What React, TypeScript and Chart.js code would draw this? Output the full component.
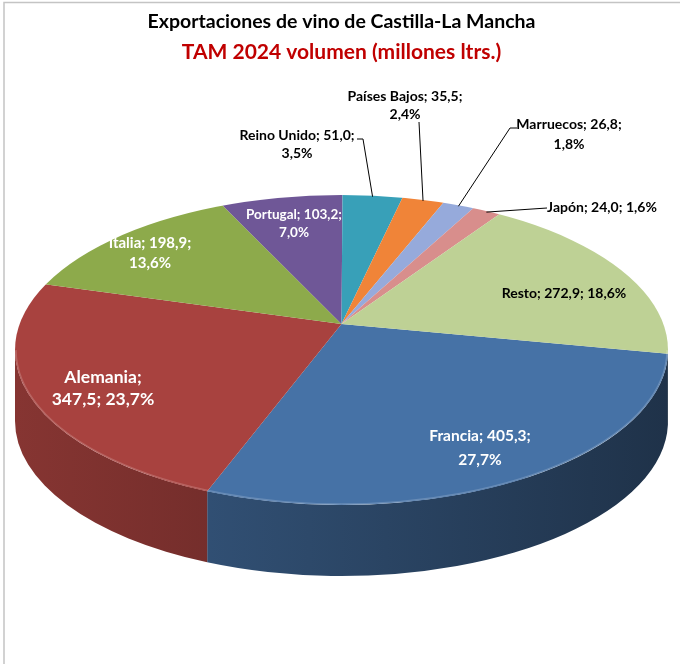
import { useEffect, useRef } from 'react';
import { Chart, registerables } from 'chart.js';

Chart.register(...registerables);

// ---- data ----
const CATEGORIES = ['Francia', 'Alemania', 'Italia', 'Portugal', 'Reino Unido', 'Países Bajos', 'Marruecos', 'Japón', 'Resto'];
const VALUES = [405.3, 347.5, 198.9, 103.2, 51.0, 35.5, 26.8, 24.0, 272.9];
const TITLE = 'Exportaciones de vino de Castilla-La Mancha';
const SUBTITLE = 'TAM 2024 volumen (millones ltrs.)';

// ---- style / layout ----
const COLORS = ['#4672A6', '#A8423F', '#8DAA4B', '#6F5797', '#38A0B8', '#F08438', '#96AADB', '#D88E8C', '#BED195'];
const FIRST_SLICE_ANGLE = 101; // degrees clockwise from 12 o'clock
const DEPTH = 71;
const PERSPECTIVE = 0.168; // 0 = no perspective
const FONT = 'Lato, "Open Sans", sans-serif';
// parts on the first line (name; value; pct)
const LABEL_BREAK = [2, 1, 2, 2, 2, 2, 2, 3, 3];
const LABEL_SIZE = [15.5, 17.5, 15, 13.5, 14, 14, 14, 14, 14];
const LABEL_LINE = [24, 22, 20, 18, 18, 18, 20, 18, 18];
const LABEL_COLOR = ['#ffffff', '#ffffff', '#ffffff', '#ffffff', '#000000', '#000000', '#000000', '#000000', '#000000'];
const LABEL_POS: [number, number][] = [[480, 436], [103, 377], [150, 243], [294, 215], [297, 135], [405, 96], [569, 124], [602, 207], [564, 293]];
// leader-line starting points (null = no leader)
const LEADERS: ([number, number][] | null)[] = [null, null, null, null, [[357, 139], [363, 139]], [[419, 122]], [[517, 128], [510, 128]], [[547, 208]], null];

const fmt = (v: number) => v.toFixed(1).replace('.', ',');

function shade(hex: string, f: number) {
  const n = parseInt(hex.slice(1), 16);
  const r = Math.round(((n >> 16) & 255) * f);
  const g = Math.round(((n >> 8) & 255) * f);
  const b = Math.round((n & 255) * f);
  return `rgb(${r},${g},${b})`;
}

const TAU = Math.PI * 2;

// silhouette ellipse (cx, cy, a, b) from the chart area, apex P of the slices and ray axes (A, B)
function geom(chart: any) {
  const { left, right, top, bottom } = chart.chartArea;
  const cx = (left + right) / 2, cy = (top + bottom) / 2, a = (right - left) / 2, b = (bottom - top) / 2;
  const k = PERSPECTIVE;
  return { cx, cy, a, b, k, px: cx, py: cy - b * k, A: a * Math.sqrt(1 - k * k), B: b * (1 - k * k) };
}

// where the ray from the apex at pie angle ang meets the silhouette; returns point and ellipse parameter
function hit(g: any, ang: number) {
  const dx = g.A * Math.cos(ang), dy = g.B * Math.sin(ang);
  const qa = (dx * dx) / (g.a * g.a) + (dy * dy) / (g.b * g.b);
  const qb = (-2 * g.k * dy) / g.b;
  const qc = g.k * g.k - 1;
  const t = (-qb + Math.sqrt(qb * qb - 4 * qa * qc)) / (2 * qa);
  const x = g.px + t * dx, y = g.py + t * dy;
  let phi = Math.atan2((y - g.cy) / g.b, (x - g.cx) / g.a);
  phi += TAU * Math.round((ang - phi) / TAU);
  return { x, y, phi };
}

const pie3d = {
  id: 'pie3d',
  beforeDraw(chart: any) {
    const ctx = chart.ctx;
    ctx.save();
    ctx.strokeStyle = '#C4C4C4';
    ctx.lineWidth = 1.5;
    ctx.beginPath();
    ctx.moveTo(4, 700);
    ctx.lineTo(4, 2.5);
    ctx.lineTo(700, 2.5);
    ctx.stroke();
    ctx.restore();
  },
  beforeDatasetsDraw(chart: any) {
    const ctx = chart.ctx;
    const g = geom(chart);
    const { cx, cy, a, b } = g;
    const arcs = chart.getDatasetMeta(0).data;
    ctx.save();
    arcs.forEach((arc: any, i: number) => {
      const s = hit(g, arc.startAngle).phi;
      let e = hit(g, arc.endAngle).phi;
      if (e < s) e += TAU;
      for (let k = -1; k <= 2; k++) {
        const lo = Math.max(s, k * TAU), hi = Math.min(e, k * TAU + Math.PI);
        if (hi <= lo) continue;
        const grad = ctx.createLinearGradient(cx - a, 0, cx + a, 0);
        grad.addColorStop(0, shade(COLORS[i], 0.8));
        grad.addColorStop(0.45, shade(COLORS[i], 0.64));
        grad.addColorStop(1, shade(COLORS[i], 0.44));
        ctx.beginPath();
        ctx.ellipse(cx, cy, a, b, 0, lo, hi);
        ctx.lineTo(cx + a * Math.cos(hi), cy + b * Math.sin(hi) + DEPTH);
        ctx.ellipse(cx, cy + DEPTH, a, b, 0, hi, lo, true);
        ctx.closePath();
        ctx.fillStyle = grad;
        ctx.fill();
      }
    });
    ctx.restore();
    // clip to the top face and map the round pie through the perspective rays
    const arc0 = arcs[0];
    const r = arc0.outerRadius;
    const over = 1.6;
    ctx.save();
    ctx.beginPath();
    ctx.ellipse(cx, cy, a, b, 0, 0, TAU);
    ctx.clip();
    ctx.translate(g.px, g.py);
    ctx.scale((over * g.A) / r, (over * g.B) / r);
    ctx.translate(-arc0.x, -arc0.y);
  },
  afterDatasetsDraw(chart: any) {
    const ctx = chart.ctx;
    ctx.restore();
    const { cx, cy, a, b } = geom(chart);
    ctx.save();
    ctx.strokeStyle = 'rgba(255,255,255,0.18)';
    ctx.lineWidth = 1.5;
    ctx.beginPath();
    ctx.ellipse(cx, cy, a - 1, b - 1, 0, 0, Math.PI);
    ctx.stroke();
    ctx.restore();
  },
  afterDraw(chart: any) {
    const ctx = chart.ctx;
    const g = geom(chart);
    const arcs = chart.getDatasetMeta(0).data;
    const total = VALUES.reduce((s, v) => s + v, 0);
    ctx.save();
    arcs.forEach((arc: any, i: number) => {
      const parts = [CATEGORIES[i], fmt(VALUES[i]), fmt((VALUES[i] / total) * 100) + '%'];
      const lines =
        LABEL_BREAK[i] === 3
          ? [parts.join('; ')]
          : [parts.slice(0, LABEL_BREAK[i]).join('; ') + ';', parts.slice(LABEL_BREAK[i]).join('; ')];
      const [x, y] = LABEL_POS[i];
      const leader = LEADERS[i];
      if (leader) {
        const p = hit(g, (arc.startAngle + arc.endAngle) / 2);
        ctx.strokeStyle = '#000';
        ctx.lineWidth = 1;
        ctx.beginPath();
        ctx.moveTo(leader[0][0], leader[0][1]);
        for (let j = 1; j < leader.length; j++) ctx.lineTo(leader[j][0], leader[j][1]);
        ctx.lineTo(p.x, p.y + 1);
        ctx.stroke();
      }
      ctx.fillStyle = LABEL_COLOR[i];
      ctx.font = `bold ${LABEL_SIZE[i]}px ${FONT}`;
      ctx.textAlign = 'center';
      ctx.textBaseline = 'middle';
      lines.forEach((ln, j) => ctx.fillText(ln, x, y + j * LABEL_LINE[i]));
    });
    ctx.restore();
  },
};

export default function App() {
  const ref = useRef<HTMLCanvasElement | null>(null);
  useEffect(() => {
    document.body.style.margin = '0';
    const chart = new Chart(ref.current as HTMLCanvasElement, {
      type: 'pie',
      data: {
        labels: CATEGORIES,
        datasets: [{ data: VALUES, backgroundColor: COLORS, borderWidth: 0, hoverOffset: 0, clip: false } as any],
      },
      options: {
        responsive: false,
        devicePixelRatio: 1,
        animation: false,
        rotation: FIRST_SLICE_ANGLE,
        layout: { padding: { left: 15, right: 12, top: 0, bottom: 159 } },
        plugins: {
          legend: { display: false },
          tooltip: { enabled: false },
          title: {
            display: true,
            text: TITLE,
            color: '#000000',
            font: { family: FONT, size: 19.5, weight: 'bold' },
            padding: { top: 10.3, bottom: 0 },
          },
          subtitle: {
            display: true,
            text: SUBTITLE,
            color: '#C00000',
            font: { family: FONT, size: 21, weight: 'bold' },
            padding: { top: 5.7, bottom: 130.4 },
          },
        },
      } as any,
      plugins: [pie3d],
    });
    return () => chart.destroy();
  }, []);
  return (
    <div style={{ width: 680, height: 664, overflow: 'hidden', background: '#fff' }}>
      <canvas ref={ref} width={680} height={664} style={{ width: 680, height: 664, display: 'block' }} />
    </div>
  );
}
